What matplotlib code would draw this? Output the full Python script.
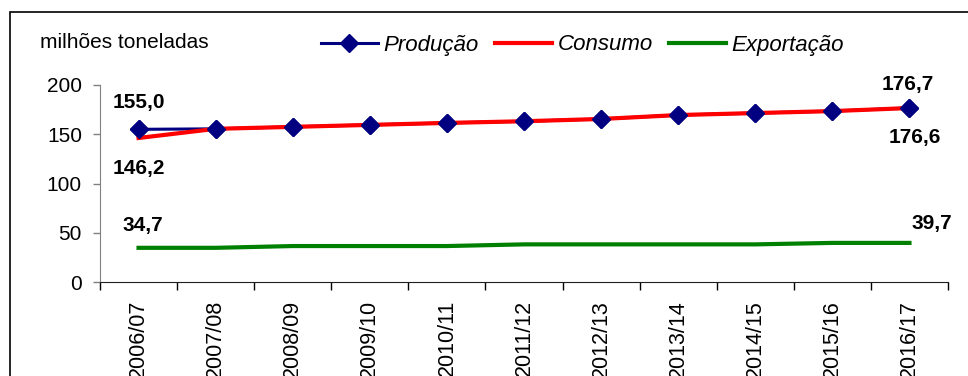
'''
    Produção, consumo e exportação (milhões toneladas)
'''
import matplotlib
matplotlib.use('Agg')
import matplotlib.pyplot as plt
from matplotlib.patches import Rectangle
from matplotlib.ticker import MultipleLocator

safras = ['2006/07', '2007/08', '2008/09', '2009/10', '2010/11', '2011/12',
          '2012/13', '2013/14', '2014/15', '2015/16', '2016/17']
producao = [155.0, 155.5, 157.5, 159.5, 161.5, 163.2, 165.5, 169.5, 171.5, 173.5, 176.7]
consumo = [146.2, 155.5, 157.5, 159.5, 161.5, 163.2, 165.5, 169.5, 171.5, 173.5, 176.6]
exportacao = [34.7, 34.7, 36.5, 36.5, 36.5, 38.2, 38.2, 38.2, 38.2, 39.7, 39.7]

plt.rcParams['font.family'] = ['Liberation Sans', 'DejaVu Sans']


def make_plot():
    fig = plt.figure(figsize=(9.68, 3.76), dpi=100)
    ax = fig.add_axes([100 / 968, 1 - 282 / 376, 848 / 968, 197 / 376])
    x = list(range(len(safras)))

    ax.plot(x, producao, color='#000080', lw=2.2, marker='D', ms=9.5,
            label='Produção', zorder=2)
    ax.plot(x, consumo, color='#ff0000', lw=3, label='Consumo', zorder=3)
    ax.plot(x, exportacao, color='#008000', lw=3, label='Exportação', zorder=3)
    # diamantes por cima da linha vermelha
    ax.plot(x, producao, ls='none', marker='D', ms=9.5, color='#000080', zorder=4)

    ax.set_xlim(-0.5, len(safras) - 0.5)
    ax.set_ylim(0, 200)
    ax.yaxis.set_major_locator(MultipleLocator(50))
    ax.set_xticks(x)
    ax.set_xticklabels(safras, rotation=90, va='top', ha='center')
    ax.set_xticks([i - 0.5 for i in range(len(safras) + 1)], minor=True)
    ax.tick_params(axis='x', which='major', length=0, pad=13, labelsize=15.5)
    ax.tick_params(axis='x', which='minor', length=6, width=1, direction='out')
    ax.tick_params(axis='y', length=5, width=1, pad=8, labelsize=15, color='#808080')

    for s in ['top', 'right']:
        ax.spines[s].set_visible(False)
    ax.spines['left'].set_color('#808080')
    ax.spines['bottom'].set_color('#202020')

    bold = dict(fontsize=15, fontweight='bold', ha='center', va='center',
                textcoords='offset points')
    ax.annotate('155,0', (0, producao[0]), xytext=(0, 19.5), **bold)
    ax.annotate('146,2', (0, consumo[0]), xytext=(0, -22), **bold)
    ax.annotate('34,7', (0, exportacao[0]), xytext=(3, 16), **bold)
    ax.annotate('176,7', (10, producao[-1]), xytext=(-1.5, 17), **bold)
    ax.annotate('176,6', (10, consumo[-1]), xytext=(3.5, -21), **bold)
    ax.annotate('39,7', (10, exportacao[-1]), xytext=(16, 14), **bold)

    fig.text(40 / 968, 1 - 42 / 376, 'milhões toneladas', fontsize=15,
             ha='left', va='center')

    fig.legend(loc='center left', bbox_to_anchor=(321 / 968, 1 - 45 / 376),
               ncol=3, frameon=False, borderpad=0, borderaxespad=0,
               handlelength=2.55, handletextpad=0.25, columnspacing=0.75,
               prop={'size': 16, 'style': 'italic'})

    # moldura externa
    fig.patches.append(Rectangle((10 / 968, -0.1), 1.2, 1 - 12 / 376 + 0.1,
                                 transform=fig.transFigure, fill=False,
                                 edgecolor='black', lw=1.2))

    fig.savefig('out.png', dpi=100)


if __name__ == '__main__':
    make_plot()
